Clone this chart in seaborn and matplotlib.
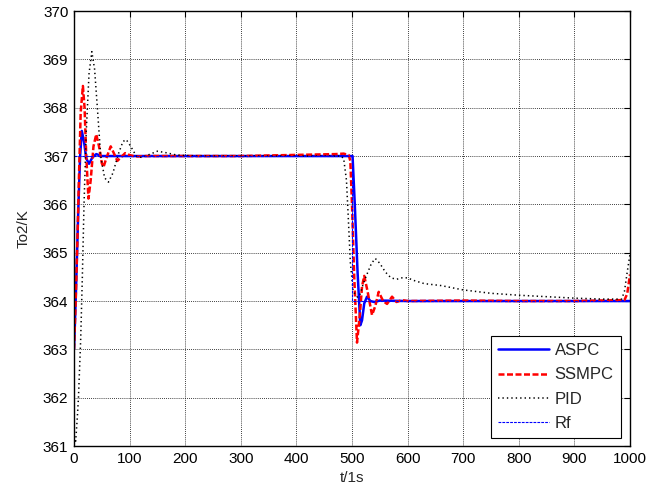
import numpy as np
import pandas as pd
import matplotlib
matplotlib.use("Agg")
import matplotlib.pyplot as plt
import seaborn as sns

# values (time in s, temperature in K)
aspc_t = [0, 3, 8, 11, 14, 18, 22, 27, 33, 40, 50, 100, 300, 501, 505, 510, 515,
          518, 522, 527, 533, 540, 550, 600, 800, 1000]
aspc_y = [363.0, 364.0, 366.0, 367.0, 367.52, 367.3, 366.95, 366.84, 366.97, 367.04, 367.0,
          367.0, 367.0, 367.0, 366.0, 364.6, 363.5, 363.6, 363.95, 364.09, 364.0, 363.98,
          364.01, 364.0, 364.0, 364.0]

ssmpc_t = [0, 3, 6, 9, 12, 16, 19, 22, 26, 30, 35, 40, 45, 50, 53, 58, 66, 72, 78, 85, 92,
           100, 110, 130, 300, 470, 485, 494, 497, 500, 504, 509, 514, 518, 522, 528, 536,
           542, 548, 556, 563, 572, 580, 590, 600, 700, 800, 900, 990, 995, 1000]
ssmpc_y = [363.0, 364.0, 365.2, 366.6, 367.9, 368.45, 368.0, 367.0, 366.12, 366.5, 367.2,
           367.45, 367.2, 366.85, 366.77, 366.95, 367.2, 367.05, 366.9, 366.98, 367.06,
           367.02, 366.99, 367.0, 367.0, 367.04, 367.05, 367.02, 366.9, 366.0, 364.5, 363.14,
           363.7, 364.3, 364.52, 364.2, 363.71, 363.9, 364.19, 364.0, 363.94, 364.09, 363.98,
           364.02, 364.0, 364.01, 364.0, 364.0, 364.02, 364.15, 364.55]

pid_t = [0, 3, 6, 8, 12, 15, 18, 22, 27, 32, 37, 42, 48, 55, 62, 70, 80, 88, 94, 102, 112,
         122, 135, 150, 165, 185, 220, 480, 485, 490, 493, 497, 502, 510, 515, 520, 525, 535,
         542, 550, 560, 570, 580, 590, 600, 610, 630, 660, 700, 750, 800, 850, 900, 950, 985,
         990, 995, 1000]
pid_y = [361.2, 361.1, 361.6, 362.0, 363.2, 364.5, 366.0, 367.5, 368.7, 369.16, 368.8, 368.0,
         367.0, 366.55, 366.46, 366.65, 367.05, 367.3, 367.34, 367.2, 367.0, 366.97, 367.03,
         367.1, 367.07, 367.02, 367.0, 367.0, 366.95, 366.5, 365.8, 364.8, 364.2, 364.08,
         364.15, 364.35, 364.5, 364.78, 364.88, 364.78, 364.6, 364.48, 364.45, 364.48,
         364.48, 364.43, 364.36, 364.32, 364.23, 364.16, 364.12, 364.09, 364.06, 364.04,
         364.04, 364.2, 364.6, 364.97]

rf_t = [0, 500, 500, 1000]
rf_y = [367.0, 367.0, 364.0, 364.0]

x_ticks = list(range(0, 1001, 100))
y_ticks = list(range(361, 371))

sns.set_theme(style="white")
plt.rcParams["font.family"] = ["Liberation Sans", "DejaVu Sans"]
plt.rcParams["font.size"] = 11

fig = plt.figure(figsize=(6.59, 4.91), dpi=100)
ax = fig.add_axes([0.1123, 0.0916, 0.8437, 0.8859])

series = [
    ("ASPC", aspc_t, aspc_y, dict(color="#0000ff", lw=1.8, linestyle="-")),
    ("SSMPC", ssmpc_t, ssmpc_y, dict(color="#ff0000", lw=1.8, linestyle=(0, (2.4, 1.0)))),
    ("PID", pid_t, pid_y, dict(color="black", lw=1.1, linestyle=(0, (0.9, 2.0)))),
    ("Rf", rf_t, rf_y, dict(color="#0000ff", lw=0.8, linestyle=(0, (2.5, 1.0)))),
]
for name, t, y, style in series:
    df = pd.DataFrame({"t": t, "y": y})
    sns.lineplot(data=df, x="t", y="y", ax=ax, estimator=None, sort=False,
                 label=name, **style)

ax.set_xlim(0, 1000)
ax.set_ylim(361, 370)
ax.set_xticks(x_ticks)
ax.set_yticks(y_ticks)
ax.grid(True, color="black", linestyle=(0, (1, 1.5)), linewidth=0.6)
ax.tick_params(direction="in", top=True, right=True, length=4, width=0.8,
               colors="black", labelsize=11, pad=4)
for sp in ax.spines.values():
    sp.set_color("black")
    sp.set_linewidth(1.0)

ax.set_xlabel("t/1s", fontsize=11, labelpad=4)
ax.set_ylabel("To2/K", fontsize=11, labelpad=9)

leg = ax.legend(loc="lower right", bbox_to_anchor=(0.984, 0.018), borderaxespad=0,
                handlelength=3.05, handletextpad=0.32, labelspacing=0.55,
                borderpad=0.45, fancybox=False, framealpha=1, edgecolor="black",
                fontsize=12)
leg.get_frame().set_linewidth(0.8)

plt.savefig("out.png", dpi=100)
plt.close()
